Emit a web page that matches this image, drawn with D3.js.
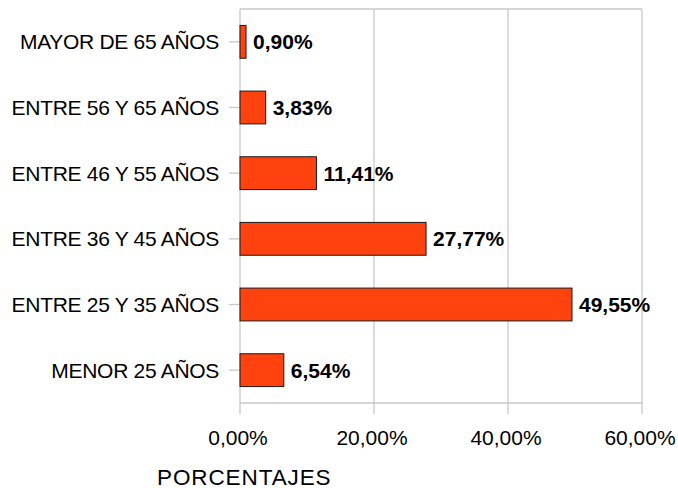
<!DOCTYPE html>
<html><head><meta charset="utf-8">
<script src="https://cdn.jsdelivr.net/npm/d3@7"></script>
<style>body{margin:0;background:#fff}svg{display:block}text{font-family:"Liberation Sans",Arial,sans-serif}</style>
</head><body>
<svg id="c" width="678" height="488"></svg>
<script>
const categories = ["MAYOR DE 65 AÑOS","ENTRE 56 Y 65 AÑOS","ENTRE 46 Y 55 AÑOS","ENTRE 36 Y 45 AÑOS","ENTRE 25 Y 35 AÑOS","MENOR 25 AÑOS"];
const values = [0.90, 3.83, 11.41, 27.77, 49.55, 6.54];
const xTicks = [0, 20, 40, 60];
const xTitle = "PORCENTAJES";

const svg = d3.select("#c");
const L = 240, R = 642, T = 9, B = 403;
const x = d3.scaleLinear().domain([0, 60]).range([L, R]);
const y = d3.scaleBand().domain(categories).range([T, B]).paddingInner(0.5).paddingOuter(0.25);
const fmt = v => v.toFixed(2).replace(".", ",") + "%";
const grid = "#c8c8c8";

// grid
svg.append("g").selectAll("line").data(xTicks).join("line")
  .attr("x1", d => x(d)).attr("x2", d => x(d)).attr("y1", T).attr("y2", B + 11)
  .attr("stroke", grid).attr("stroke-width", 1.3);
svg.append("line").attr("x1", L).attr("x2", R).attr("y1", T).attr("y2", T).attr("stroke", grid).attr("stroke-width", 1.3);
svg.append("line").attr("x1", L).attr("x2", R).attr("y1", B).attr("y2", B).attr("stroke", grid).attr("stroke-width", 1.3);

// y ticks
svg.append("g").selectAll("line").data(categories).join("line")
  .attr("x1", L - 11).attr("x2", L).attr("y1", d => y(d) + y.bandwidth() / 2).attr("y2", d => y(d) + y.bandwidth() / 2)
  .attr("stroke", grid).attr("stroke-width", 1.3);

// bars
svg.append("g").selectAll("rect").data(values).join("rect")
  .attr("x", x(0)).attr("y", (d, i) => y(categories[i]))
  .attr("width", d => x(d) - x(0)).attr("height", y.bandwidth())
  .attr("fill", "#ff420e").attr("stroke", "#1a1a1a").attr("stroke-width", 1);

// value labels
svg.append("g").selectAll("text").data(values).join("text")
  .attr("x", d => x(d) + 7).attr("y", (d, i) => y(categories[i]) + y.bandwidth() / 2)
  .attr("dy", "0.35em").attr("font-size", 21).attr("font-weight", "bold").attr("fill", "#000")
  .text(fmt);

// category labels
svg.append("g").selectAll("text").data(categories).join("text")
  .attr("x", 219).attr("y", d => y(d) + y.bandwidth() / 2).attr("dy", "0.35em")
  .attr("text-anchor", "end").attr("font-size", 21).attr("letter-spacing", "-0.3px").attr("fill", "#000").text(d => d);

// x tick labels
svg.append("g").selectAll("text").data(xTicks).join("text")
  .attr("x", d => x(d) - 2).attr("y", 445).attr("text-anchor", "middle")
  .attr("font-size", 21).attr("fill", "#000").text(d => d.toFixed(2).replace(".", ",") + "%");

svg.append("text").attr("x", 157).attr("y", 485).attr("font-size", 22.5).attr("letter-spacing", "0.9px").attr("fill", "#000").text(xTitle);
</script>
</body></html>
